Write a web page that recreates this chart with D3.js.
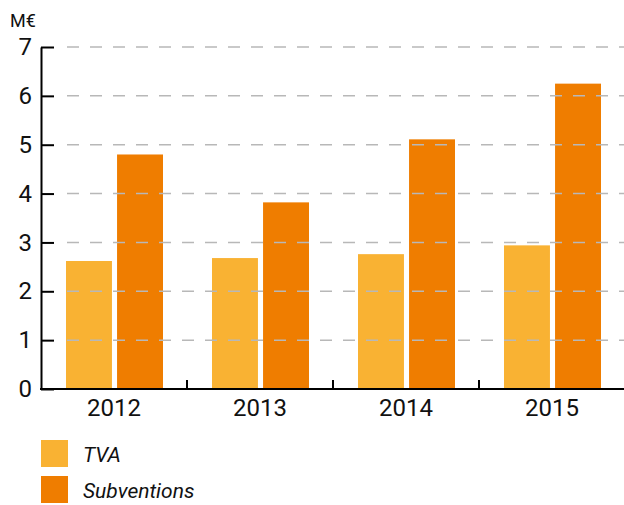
<!DOCTYPE html>
<meta charset="utf-8">
<head>
  <script src="https://d3js.org/d3.v7.min.js"></script>
  <style>
    body { margin: 0; background: #fff; }
    svg text { font-family: Roboto, sans-serif; fill: #111; }
  </style>
</head>
<body>
  <svg id="chart" width="624" height="505"></svg>
  <script>
    var years = ["2012", "2013", "2014", "2015"];
    var seriesNames = ["TVA", "Subventions"];
    var tva = [2.62, 2.68, 2.76, 2.94];
    var subventions = [4.80, 3.82, 5.11, 6.25];
    var yTicks = [0, 1, 2, 3, 4, 5, 6, 7];

    var colors = ["#f9b233", "#ef7d00"];
    var values = [tva, subventions];

    var svg = d3.select("#chart");

    var x = d3.scaleBand().domain(years).range([41, 625]);
    var xInner = d3.scaleBand().domain(seriesNames).range([25, 122]).paddingInner(0.1);
    var y = d3.scaleLinear().domain([0, 7]).range([389, 47]);

    // unit label
    svg.append("text")
      .attr("x", 10).attr("y", 27)
      .style("font-size", "18px")
      .text("M€");

    // bars
    seriesNames.forEach(function(s, si) {
      svg.append("g")
        .selectAll("rect")
        .data(years)
        .enter().append("rect")
          .attr("x", function(d) { return x(d) + xInner(s); })
          .attr("y", function(d, i) { return y(values[si][i]); })
          .attr("width", xInner.bandwidth())
          .attr("height", function(d, i) { return y(0) - y(values[si][i]); })
          .attr("fill", colors[si]);
    });

    // grid lines (drawn over the bars)
    svg.append("g")
      .selectAll("line")
      .data(yTicks.filter(function(t) { return t > 0; }))
      .enter().append("line")
        .attr("x1", 67).attr("x2", 624)
        .attr("y1", function(d) { return y(d); })
        .attr("y2", function(d) { return y(d); })
        .attr("stroke", "#b8b8b8")
        .attr("stroke-width", 1.5)
        .attr("stroke-dasharray", "12,11");

    // y axis
    var yAxis = svg.append("g")
      .attr("transform", "translate(41,0)")
      .call(d3.axisLeft(y).tickValues(yTicks).tickFormat(d3.format("d"))
        .tickSizeInner(-13).tickSizeOuter(0).tickPadding(9));
    yAxis.selectAll("line").attr("stroke", "#000").attr("stroke-width", 2);
    yAxis.select(".domain").attr("stroke", "#000").attr("stroke-width", 2);
    yAxis.selectAll("text").style("font-size", "24px").attr("fill", "#111").style("font-family", "Roboto, sans-serif");

    // x axis
    svg.append("line")
      .attr("x1", 40).attr("x2", 624)
      .attr("y1", y(0)).attr("y2", y(0))
      .attr("stroke", "#000").attr("stroke-width", 2);

    svg.append("g")
      .selectAll("line")
      .data(years.slice(1))
      .enter().append("line")
        .attr("x1", function(d) { return x(d); })
        .attr("x2", function(d) { return x(d); })
        .attr("y1", y(0)).attr("y2", y(0) - 9)
        .attr("stroke", "#000").attr("stroke-width", 2);

    svg.append("g")
      .selectAll("text")
      .data(years)
      .enter().append("text")
        .attr("x", function(d) { return x(d) + x.bandwidth() / 2; })
        .attr("y", 416)
        .attr("text-anchor", "middle")
        .style("font-size", "24px")
        .text(function(d) { return d; });

    // legend
    var legend = svg.append("g")
      .selectAll("g")
      .data(seriesNames)
      .enter().append("g")
        .attr("transform", function(d, i) { return "translate(41," + (440 + i * 36) + ")"; });

    legend.append("rect")
      .attr("width", 27).attr("height", 27)
      .attr("fill", function(d, i) { return colors[i]; });

    legend.append("text")
      .attr("x", 42).attr("y", 22)
      .style("font-size", "21px")
      .style("font-style", "italic")
      .text(function(d) { return d; });
  </script>
</body>
